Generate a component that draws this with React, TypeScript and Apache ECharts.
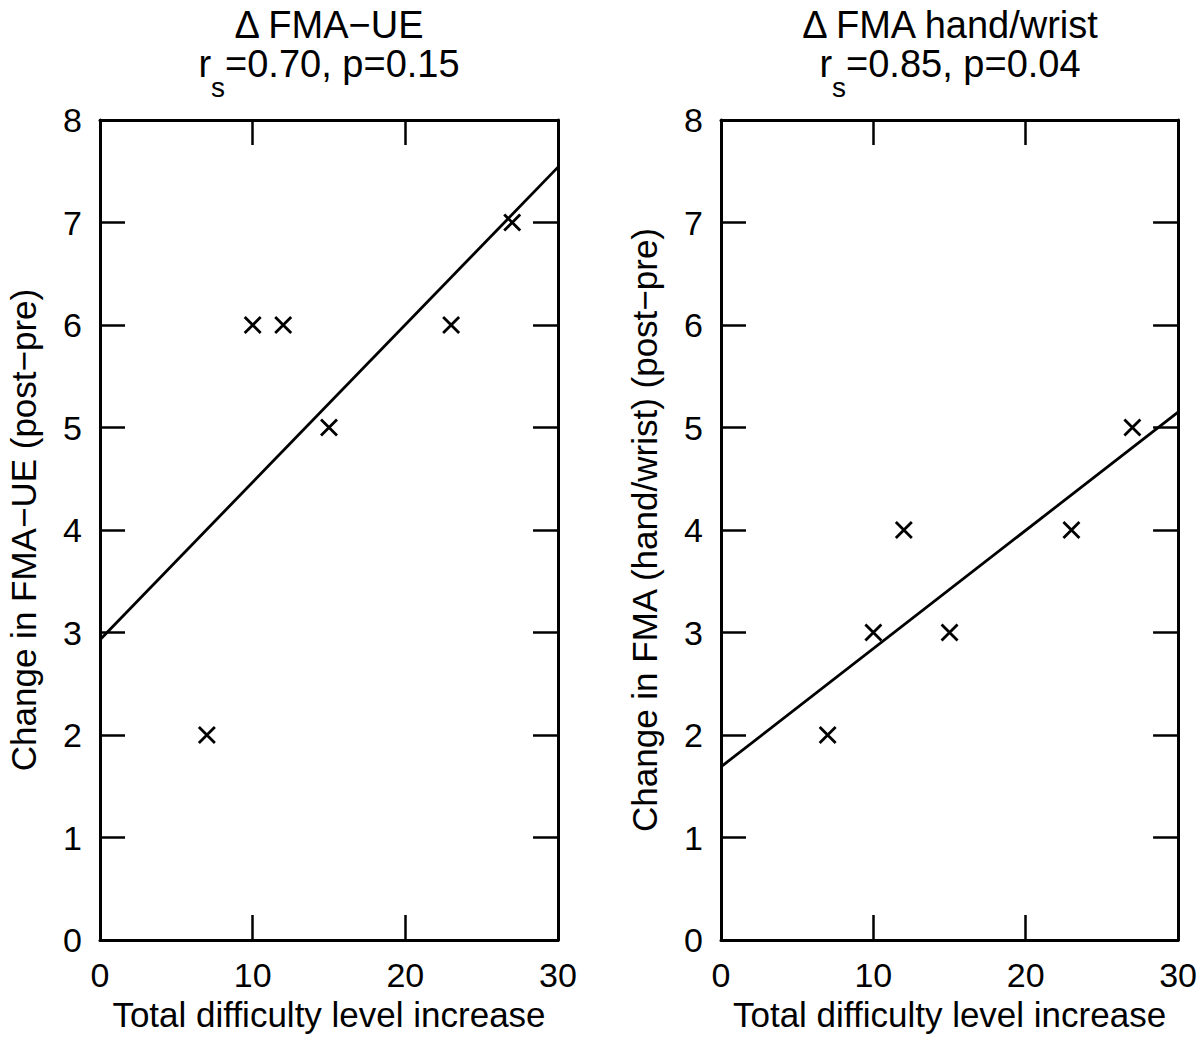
import React, { useEffect, useRef } from "react";
import * as echarts from "echarts";

const FONT = "'Liberation Sans', Arial, Helvetica, sans-serif";

const xValues = [7, 10, 12, 15, 23, 27];
const fmaUE = [2, 6, 6, 5, 6, 7];
const fmaHand = [2, 3, 4, 3, 4, 5];
const fitUE = [
  [0, 2.93],
  [30, 7.54],
];
const fitHand = [
  [0, 1.69],
  [30, 5.15],
];
const xTicks = [0, 10, 20, 30];
const yTicks = [0, 1, 2, 3, 4, 5, 6, 7, 8];

const panels = [
  {
    title: "Δ FMA−UE",
    stat: "=0.70, p=0.15",
    yName: "Change in FMA−UE (post−pre)",
    ys: fmaUE,
    fit: fitUE,
    left: 100,
  },
  {
    title: "Δ FMA hand/wrist",
    stat: "=0.85, p=0.04",
    yName: "Change in FMA (hand/wrist) (post−pre)",
    ys: fmaHand,
    fit: fitHand,
    left: 721,
  },
];

const GRID_W = 458;
const GRID_TOP = 120;
const GRID_H = 820;
const FS = 35;
const TICK_FS = 34;
const TITLE_FS = 38;

export default function App() {
  const ref = useRef<HTMLDivElement>(null);
  useEffect(() => {
    if (!ref.current) return;
    const chart = echarts.init(ref.current, null, { renderer: "svg" });
    const lineStyle = { color: "#000", width: 3 };
    const tickLen = 25;
    const grid: any[] = [];
    const xAxis: any[] = [];
    const yAxis: any[] = [];
    const series: any[] = [];
    const graphic: any[] = [];
    panels.forEach((p, i) => {
      grid.push({ left: p.left, top: GRID_TOP, width: GRID_W, height: GRID_H, containLabel: false });
      const xBase = {
        gridIndex: i,
        type: "value",
        min: xTicks[0],
        max: xTicks[xTicks.length - 1],
        interval: 10,
        splitLine: { show: false },
        axisLine: { show: true, onZero: false, lineStyle },
        axisTick: { show: true, inside: true, length: tickLen, lineStyle: { color: "#000", width: 2.5 } },
      };
      xAxis.push({
        ...xBase,
        position: "bottom",
        name: "Total difficulty level increase",
        nameLocation: "middle",
        nameGap: 36,
        nameTextStyle: { color: "#000", fontSize: FS, fontFamily: FONT },
        axisLabel: { show: true, color: "#000", fontSize: TICK_FS, fontFamily: FONT, margin: 18 },
      });
      xAxis.push({ ...xBase, position: "top", axisLabel: { show: false } });
      const yBase = {
        gridIndex: i,
        type: "value",
        min: yTicks[0],
        max: yTicks[yTicks.length - 1],
        interval: 1,
        splitLine: { show: false },
        axisLine: { show: true, onZero: false, lineStyle },
        axisTick: { show: true, inside: true, length: tickLen, lineStyle: { color: "#000", width: 2.5 } },
      };
      yAxis.push({
        ...yBase,
        position: "left",
        name: p.yName,
        nameLocation: "middle",
        nameGap: 59,
        nameTextStyle: { color: "#000", fontSize: FS, fontFamily: FONT },
        axisLabel: { show: true, color: "#000", fontSize: TICK_FS, fontFamily: FONT, margin: 18 },
      });
      yAxis.push({ ...yBase, position: "right", axisLabel: { show: false } });
      series.push({
        type: "line",
        xAxisIndex: i * 2,
        yAxisIndex: i * 2,
        data: p.fit,
        symbol: "none",
        lineStyle: { color: "#000", width: 2.8 },
        silent: true,
      });
      series.push({
        type: "scatter",
        xAxisIndex: i * 2,
        yAxisIndex: i * 2,
        data: xValues.map((x, k) => [x, p.ys[k]]),
        symbol: "path://M0,0L10,10M10,0L0,10",
        symbolSize: 16,
        itemStyle: { color: "rgba(0,0,0,0)", borderColor: "#000", borderWidth: 2.8, opacity: 1 },
      });
      const cx = p.left + GRID_W / 2;
      graphic.push({
        type: "text",
        x: cx,
        y: 25,
        style: {
          text: p.title,
          align: "center",
          verticalAlign: "middle",
          fill: "#000",
          fontSize: TITLE_FS,
          fontFamily: FONT,
          lineHeight: 36,
        },
      });
      graphic.push({
        type: "text",
        x: cx,
        y: 45,
        style: {
          text: "{m|r}{s|s}{m|" + p.stat + "}",
          align: "center",
          verticalAlign: "top",
          fill: "#000",
          fontSize: TITLE_FS,
          fontFamily: FONT,
          rich: {
            m: { fontSize: TITLE_FS, fontFamily: FONT, lineHeight: 36, verticalAlign: "top", fill: "#000" },
            s: { fontSize: 28, fontFamily: FONT, lineHeight: 85, fill: "#000" },
          },
        },
      });
    });
    chart.setOption({
      animation: false,
      backgroundColor: "#fff",
      grid,
      xAxis,
      yAxis,
      series,
      graphic,
    });
    return () => chart.dispose();
  }, []);
  return (
    <div
      ref={ref}
      style={{ position: "fixed", left: 0, top: 0, width: 1200, height: 1048, background: "#fff" }}
    />
  );
}
